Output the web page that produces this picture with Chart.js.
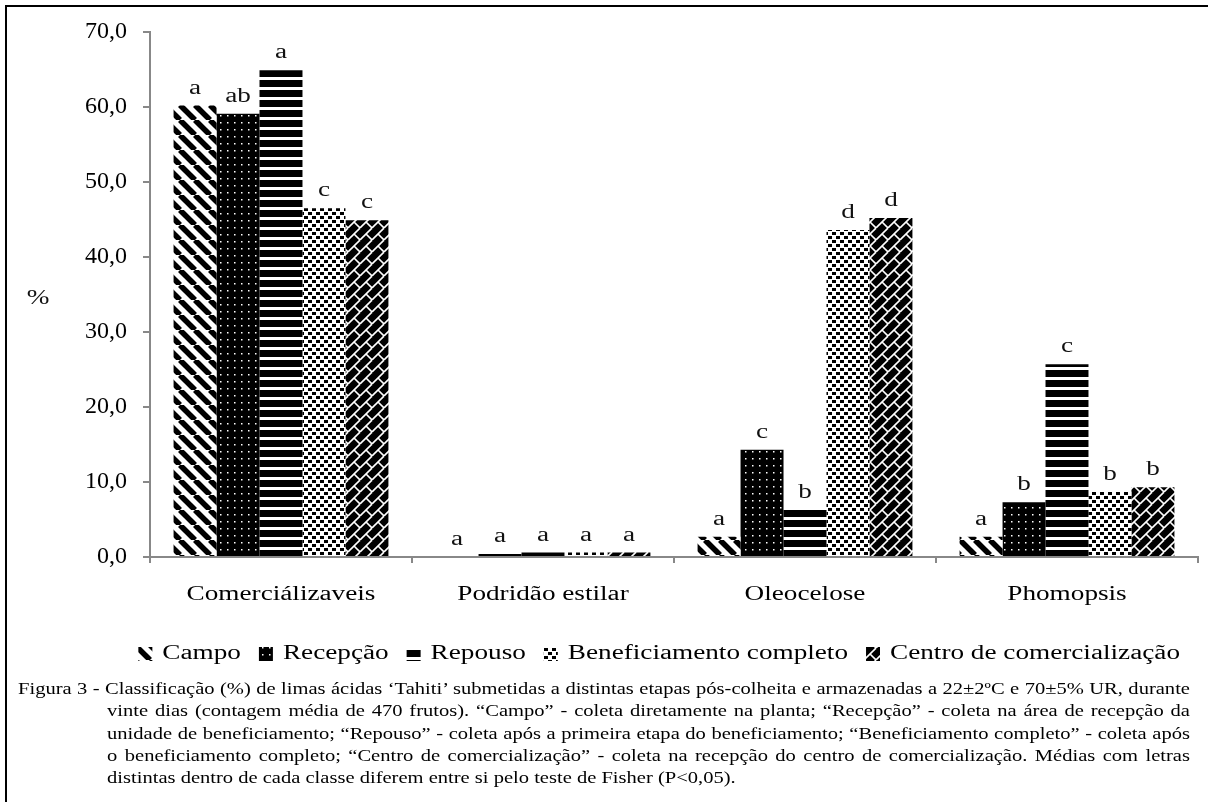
<!DOCTYPE html>
<html>
<head>
<meta charset="utf-8">
<script src="https://cdn.jsdelivr.net/npm/chart.js@4.4.1/dist/chart.umd.min.js"></script>
<style>
html, body { margin: 0; padding: 0; background: #fff; overflow: hidden; width: 1208px; height: 802px; }
#frame { position: absolute; left: 5px; top: 5px; width: 1220px; height: 820px; border: 2px solid #000; }
#box { position: absolute; left: 0; top: 0; width: 1208px; height: 680px; }
#cap { position: absolute; left: 18px; top: 678px; width: 901.5px; font: 15.8px 'Liberation Serif', serif; line-height: 22.3px; color: #000; transform: scaleX(1.3); transform-origin: 0 0; }
#cap div { text-align: justify; text-align-last: justify; white-space: nowrap; }
#cap .ind { margin-left: 68.5px; }
#cap .last { text-align-last: left; }
</style>
</head>
<body>
<div id="frame"></div>
<div id="box"><canvas id="c"></canvas></div>
<div id="cap">
  <div>Figura 3 - Classificação (%) de limas ácidas ‘Tahiti’ submetidas a distintas etapas pós-colheita e armazenadas a 22±2ºC e 70±5% UR, durante</div>
  <div class="ind">vinte dias (contagem média de 470 frutos). “Campo” - coleta diretamente na planta; “Recepção” - coleta na área de recepção da</div>
  <div class="ind">unidade de beneficiamento; “Repouso” - coleta após a primeira etapa do beneficiamento; “Beneficiamento completo” - coleta após</div>
  <div class="ind">o beneficiamento completo; “Centro de comercialização” - coleta na recepção do centro de comercialização. Médias com letras</div>
  <div class="ind last">distintas dentro de cada classe diferem entre si pelo teste de Fisher (P&lt;0,05).</div>
</div>
<script>
// ---------------- data ----------------
const categories = ['Comerciálizaveis', 'Podridão estilar', 'Oleocelose', 'Phomopsis']
const seriesNames = ['Campo', 'Recepção', 'Repouso', 'Beneficiamento completo', 'Centro de comercialização']

const campo = [60.2, 0.0, 2.7, 2.7]
const recepcao = [59.1, 0.4, 14.3, 7.3]
const repouso = [64.9, 0.6, 6.3, 25.7]
const beneficiamento = [46.5, 0.6, 43.6, 8.7]
const centro = [44.9, 0.6, 45.2, 9.3]

const lettersCampo = ['a', 'a', 'a', 'a']
const lettersRecepcao = ['ab', 'a', 'c', 'b']
const lettersRepouso = ['a', 'a', 'b', 'c']
const lettersBenef = ['c', 'a', 'd', 'b']
const lettersCentro = ['c', 'a', 'd', 'b']

const yMin = 0
const yMax = 70
const yStep = 10

// ---------------- patterns ----------------
const tmp = document.createElement('canvas').getContext('2d')
function makePattern(w, h, draw){
    const c = document.createElement('canvas')
    c.width = w
    c.height = h
    const g = c.getContext('2d')
    draw(g, w, h)
    return tmp.createPattern(c, 'repeat')
}

const patCampo = makePattern(15, 15, (g, w, h) => {
    g.fillStyle = '#fff'; g.fillRect(0, 0, w, h)
    g.strokeStyle = '#000'; g.lineWidth = 5.5
    for (const k of [-15, 0, 15]) {
        g.beginPath(); g.moveTo(k, 0); g.lineTo(k + 15, 15); g.stroke()
    }
})
const patRecepcao = makePattern(7, 7, (g, w, h) => {
    g.fillStyle = '#000'; g.fillRect(0, 0, w, h)
    g.fillStyle = '#fff'; g.fillRect(3, 3, 1.5, 1.5)
})
const patRepouso = makePattern(10, 10, (g, w, h) => {
    g.fillStyle = '#fff'; g.fillRect(0, 0, w, h)
    g.fillStyle = '#000'; g.fillRect(0, 0, w, 7)
})
const patBenef = makePattern(8, 8, (g, w, h) => {
    g.fillStyle = '#fff'; g.fillRect(0, 0, w, h)
    g.fillStyle = '#000'
    g.fillRect(0, 0, 4, 3)
    g.fillRect(4, 4, 4, 3)
})
const patCentro = makePattern(12, 12, (g, w, h) => {
    g.fillStyle = '#000'; g.fillRect(0, 0, w, h)
    g.strokeStyle = '#fff'; g.lineWidth = 1.6
    for (const k of [0, 12, 24]) {
        g.beginPath(); g.moveTo(k - 12, 12); g.lineTo(k, 0); g.stroke()
    }
    g.beginPath(); g.moveTo(6, 6); g.lineTo(12, 12); g.stroke()
})

// ---------------- wide text (the original figure's text is stretched sideways) ----------------
const SX = 1.36
const canvas = document.getElementById('c')
const cctx = canvas.getContext('2d')
const origFill = cctx.fillText
const origMeasure = cctx.measureText
const isWide = c => !/(^|\s)24px/.test(c.font)
cctx.fillText = function(t, x, y, mw){
    if (!isWide(this)) return mw === undefined ? origFill.call(this, t, x, y) : origFill.call(this, t, x, y, mw)
    this.save()
    this.translate(x, y)
    this.scale(SX, 1)
    if (mw === undefined) origFill.call(this, t, 0, 0)
    else origFill.call(this, t, 0, 0, mw / SX)
    this.restore()
}
cctx.measureText = function(t){
    const m = origMeasure.call(this, t)
    const s = isWide(this) ? SX : 1
    return {
        width: m.width * s,
        actualBoundingBoxLeft: m.actualBoundingBoxLeft * s,
        actualBoundingBoxRight: m.actualBoundingBoxRight * s,
        actualBoundingBoxAscent: m.actualBoundingBoxAscent,
        actualBoundingBoxDescent: m.actualBoundingBoxDescent,
        fontBoundingBoxAscent: m.fontBoundingBoxAscent,
        fontBoundingBoxDescent: m.fontBoundingBoxDescent
    }
}

// ---------------- chart ----------------
const serif = "'Liberation Serif', 'Times New Roman', serif"

const datasets = [
    { label: seriesNames[0], data: campo, backgroundColor: patCampo, letters: lettersCampo },
    { label: seriesNames[1], data: recepcao, backgroundColor: patRecepcao, letters: lettersRecepcao },
    { label: seriesNames[2], data: repouso, backgroundColor: patRepouso, letters: lettersRepouso },
    { label: seriesNames[3], data: beneficiamento, backgroundColor: patBenef, letters: lettersBenef },
    { label: seriesNames[4], data: centro, backgroundColor: patCentro, letters: lettersCentro },
].map(d => ({ ...d, borderWidth: 0, categoryPercentage: 0.82, barPercentage: 1.0 }))

const letterPlugin = {
    id: 'letters',
    afterDatasetsDraw(chart){
        const ctx = chart.ctx
        ctx.save()
        ctx.font = '20px ' + serif
        ctx.fillStyle = '#111'
        ctx.textAlign = 'center'
        ctx.textBaseline = 'alphabetic'
        chart.data.datasets.forEach((ds, i) => {
            const meta = chart.getDatasetMeta(i)
            meta.data.forEach((bar, j) => {
                ctx.fillText(ds.letters[j], bar.x, bar.y - 12)
            })
        })
        // y axis title, horizontal like the original
        ctx.textBaseline = 'middle'
        ctx.fillText('%', 38, chart.scales.y.getPixelForValue(34.5))
        ctx.restore()
    }
}

new Chart(canvas, {
    type: 'bar',
    data: { labels: categories, datasets: datasets },
    options: {
        responsive: true,
        maintainAspectRatio: false,
        animation: false,
        layout: { padding: { left: 36, right: 10, top: 32, bottom: 6 } },
        plugins: {
            tooltip: { enabled: false },
            legend: {
                position: 'bottom',
                align: 'end',
                labels: { font: { family: serif, size: 20 }, color: '#000', boxWidth: 14, boxHeight: 14, padding: 18 }
            }
        },
        scales: {
            x: {
                grid: { drawOnChartArea: false, drawTicks: true, tickLength: 6, color: '#888', lineWidth: 2 },
                border: { color: '#888', width: 2 },
                ticks: { font: { family: serif, size: 20 }, color: '#000', padding: 20 },
                afterFit(scale){ scale.height = 69 }
            },
            y: {
                min: yMin,
                max: yMax,
                grid: { drawOnChartArea: false, drawTicks: true, tickLength: 7, color: '#888', lineWidth: 2 },
                border: { color: '#888', width: 2 },
                ticks: {
                    stepSize: yStep,
                    font: { family: serif, size: 24 },
                    color: '#000',
                    padding: 16,
                    callback: v => v.toFixed(1).replace('.', ',')
                },
                afterFit(scale){ scale.width = 114 }
            }
        }
    },
    plugins: [letterPlugin]
})
</script>
</body>
</html>
